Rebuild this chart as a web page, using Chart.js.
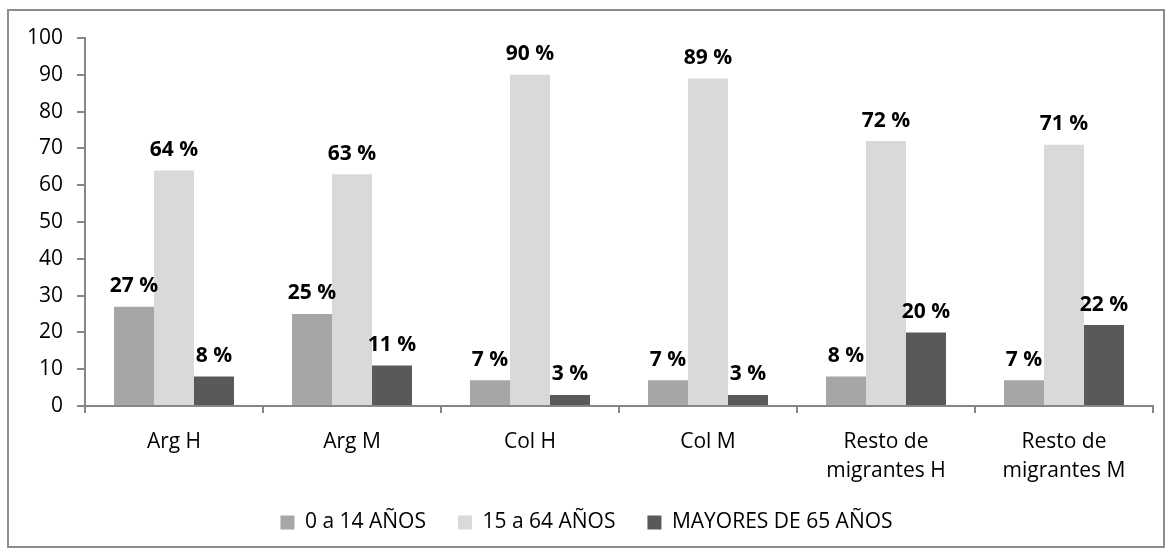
<!DOCTYPE html>
<html>
<head>
<meta charset="utf-8">
<script src="https://cdn.jsdelivr.net/npm/chart.js@4.4.1/dist/chart.umd.min.js"></script>
<style>
  body { margin: 0; background: #fff; }
  #frame { position: absolute; left: 7px; top: 9px; width: 1154px; height: 535px; border: 2px solid #8c8c8c; }
  #wrap { position: absolute; left: 0; top: 0; width: 1172px; height: 554px; }
</style>
</head>
<body>
<div id="frame"></div>
<div id="wrap"><canvas id="chart"></canvas></div>
<script>
const categorias = [["Arg H"], ["Arg M"], ["Col H"], ["Col M"], ["Resto de", "migrantes H"], ["Resto de", "migrantes M"]];
const ninos = [27, 25, 7, 7, 8, 7];
const adultos = [64, 63, 90, 89, 72, 71];
const mayores = [8, 11, 3, 3, 20, 22];
const yTicks = [0, 10, 20, 30, 40, 50, 60, 70, 80, 90, 100];

const fuente = "'Open Sans', sans-serif";
const sepLeyenda = 32;

// etiquetas de datos encima de cada barra
const etiquetas = {
  id: 'etiquetas',
  afterDatasetsDraw(chart) {
    const ctx = chart.ctx;
    ctx.save();
    ctx.font = "bold 21px " + fuente;
    ctx.fillStyle = "#000";
    ctx.textAlign = "center";
    ctx.textBaseline = "bottom";
    chart.data.datasets.forEach(function(ds, i) {
      chart.getDatasetMeta(i).data.forEach(function(bar, j) {
        ctx.fillText(ds.data[j] + " %", bar.x, bar.y - 10);
      });
    });
    ctx.restore();
  }
};

// recoloca la leyenda (el padding horizontal grande la empuja hacia abajo)
const moverLeyenda = {
  id: 'moverLeyenda',
  afterLayout(chart) {
    const lg = chart.legend;
    const h = lg.bottom - lg.top;
    lg.top = 512 - sepLeyenda;
    lg.bottom = lg.top + h;
    lg.left += 10;
    lg.right += 10;
  }
};

new Chart(document.getElementById("chart"), {
  type: "bar",
  data: {
    labels: categorias,
    datasets: [{
      label: "0 a 14 AÑOS",
      data: ninos,
      backgroundColor: "#a6a6a6"
    }, {
      label: "15 a 64 AÑOS",
      data: adultos,
      backgroundColor: "#d9d9d9"
    }, {
      label: "MAYORES DE 65 AÑOS",
      data: mayores,
      backgroundColor: "#595959"
    }]
  },
  options: {
    responsive: true,
    maintainAspectRatio: false,
    animation: false,
    categoryPercentage: 0.674,
    barPercentage: 1,
    layout: { padding: { top: 38, right: 19, bottom: 5, left: 0 } },
    plugins: {
      tooltip: { enabled: false },
      legend: {
        position: "bottom",
        maxHeight: 64,
        labels: {
          boxWidth: 14,
          boxHeight: 14,
          padding: sepLeyenda,
          color: "#000",
          font: { size: 21, family: fuente }
        }
      }
    },
    scales: {
      y: {
        min: 0,
        max: 100,
        afterBuildTicks(scale) { scale.ticks = yTicks.map(v => ({ value: v })); },
        afterFit(scale) { scale.width = 85; },
        border: { color: "#868686", width: 2 },
        grid: { drawOnChartArea: false, drawTicks: true, tickLength: 8, color: "#868686", lineWidth: 2 },
        ticks: { color: "#000", padding: 14, font: { size: 21, family: fuente } }
      },
      x: {
        afterFit(scale) { scale.height = 80; },
        border: { color: "#868686", width: 2 },
        grid: { offset: true, drawOnChartArea: false, drawTicks: true, tickLength: 7, color: "#868686", lineWidth: 2 },
        ticks: { color: "#000", padding: 15, font: { size: 21, family: fuente, lineHeight: 1.35 } }
      }
    }
  },
  plugins: [etiquetas, moverLeyenda]
});
</script>
</body>
</html>
